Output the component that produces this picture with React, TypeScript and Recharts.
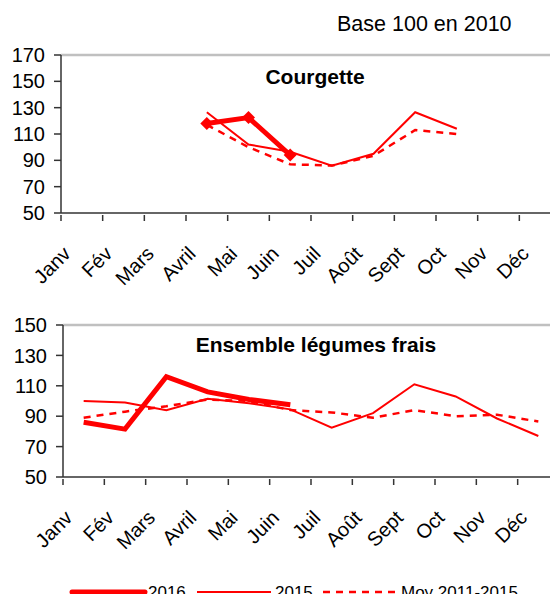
import React from "react"
import { LineChart, Line, XAxis, YAxis, ReferenceLine } from "recharts"

const months = ["Janv", "Fév", "Mars", "Avril", "Mai", "Juin", "Juil", "Août", "Sept", "Oct", "Nov", "Déc"]
const seriesNames = ["2016", "2015", "Moy 2011-2015"]

// Courgette, base 100 en 2010
const courgette2016 = [null, null, null, 118, 122.5, 94, null, null, null, null, null, null]
const courgette2015 = [null, null, null, 126.5, 102, 96.5, 86, 95, 126.5, 114, null, null]
const courgetteMoy = [null, null, null, 117, 100, 87, 86, 93.5, 113, 110, null, null]

// Ensemble légumes frais
const legumes2016 = [86, 81.5, 116, 106, 101, 97.5, null, null, null, null, null, null]
const legumes2015 = [100, 99, 94, 101.5, 98.5, 94.5, 82.5, 92, 111, 103, 88.5, 77]
const legumesMoy = [89, 93, 96.5, 101, 100, 94, 92.5, 89, 94, 90, 91, 86.5]

const courgetteTicks = [50, 70, 90, 110, 130, 150, 170]
const legumesTicks = [50, 70, 90, 110, 130, 150]

const FONT = '"Liberation Sans", Arial, sans-serif'
const RED = "#ff0000"
const AXIS = "#333333"

const monthEdges = months.map((_, i) => i).concat(months.length)

const toRows = (a: (number | null)[], b: (number | null)[], c: (number | null)[]) =>
  months.map((m, i) => ({ x: i + 0.5, month: m, s2016: a[i], s2015: b[i], moy: c[i] }))

const courgetteRows = toRows(courgette2016, courgette2015, courgetteMoy)
const legumesRows = toRows(legumes2016, legumes2015, legumesMoy)

// tick marks sit between months (Excel style), labels in the middle of each month
const MonthTick = (props: any) => {
  const { x, y, payload, band, dy } = props
  const i = payload.value
  return (
    <g>
      <line x1={x} y1={y} x2={x} y2={y + 6} stroke={AXIS} strokeWidth={1.5} />
      {i < months.length && (
        <text
          transform={`translate(${x + band / 2 - 10},${y + dy}) rotate(-45)`}
          textAnchor="end"
          fontSize={20}
          fontFamily={FONT}
          fill="#000"
        >
          {months[i]}
        </text>
      )}
    </g>
  )
}

const Diamond = (props: any) => {
  const { cx, cy, value, index } = props
  if (value == null || cx == null || cy == null) return <g key={index} />
  const r = 6.5
  return (
    <polygon
      key={index}
      points={`${cx},${cy - r} ${cx + r},${cy} ${cx},${cy + r} ${cx - r},${cy}`}
      fill={RED}
    />
  )
}

const yTick = { fontSize: 20, fontFamily: FONT, fill: "#000" }

const Panel = ({ rows, ticks, width, height, top, yWidth, xHeight, withMarkers }: any) => {
  const band = (width - yWidth) / months.length
  return (
    <LineChart width={width} height={height} data={rows} margin={{ top, right: 0, bottom: 0, left: 0 }}>
      <XAxis
        dataKey="x"
        type="number"
        domain={[0, months.length]}
        ticks={monthEdges}
        interval={0}
        tickSize={0}
        tickLine={false}
        axisLine={{ stroke: AXIS, strokeWidth: 1.5 }}
        height={xHeight}
        tick={<MonthTick band={band} dy={40} />}
      />
      <YAxis
        type="number"
        domain={[ticks[0], ticks[ticks.length - 1]]}
        ticks={ticks}
        interval={0}
        width={yWidth}
        tickSize={7}
        tickMargin={9}
        axisLine={{ stroke: AXIS, strokeWidth: 1.5 }}
        tickLine={{ stroke: AXIS, strokeWidth: 1.5 }}
        tick={yTick}
      />
      <ReferenceLine y={ticks[ticks.length - 1]} stroke="#c0c0c0" strokeWidth={2.5} />
      <Line dataKey="moy" stroke={RED} strokeWidth={2.5} strokeDasharray="7 6" dot={false} isAnimationActive={false} />
      <Line dataKey="s2015" stroke={RED} strokeWidth={2} dot={false} isAnimationActive={false} />
      <Line
        dataKey="s2016"
        stroke={RED}
        strokeWidth={5}
        dot={withMarkers ? (p: any) => <Diamond {...p} key={p.index} /> : false}
        isAnimationActive={false}
      />
    </LineChart>
  )
}

export default function App() {
  return (
    <div style={{ position: "relative", width: 558, height: 602, overflow: "hidden", margin: -8, background: "#fff" }}>
      <div style={{ position: "absolute", left: 0, top: 0 }}>
        <Panel rows={courgetteRows} ticks={courgetteTicks} width={561} height={300} top={55} yWidth={61} xHeight={87} withMarkers />
      </div>
      <div style={{ position: "absolute", left: 0, top: 300 }}>
        <Panel rows={legumesRows} ticks={legumesTicks} width={559} height={257} top={25} yWidth={63} xHeight={80} />
      </div>
      <svg width={558} height={602} style={{ position: "absolute", left: 0, top: 0, pointerEvents: "none" }} fontFamily={FONT}>
        <text x={337} y={31} fontSize={21.5}>Base 100 en 2010</text>
        <text x={315} y={84} fontSize={21} fontWeight="bold" textAnchor="middle">Courgette</text>
        <text x={316} y={352} fontSize={21} fontWeight="bold" textAnchor="middle">Ensemble légumes frais</text>
        <line x1={72} y1={592} x2={145} y2={592} stroke={RED} strokeWidth={5} strokeLinecap="round" />
        <text x={148} y={598} fontSize={17}>{seriesNames[0]}</text>
        <line x1={197} y1={592} x2={271} y2={592} stroke={RED} strokeWidth={2} />
        <text x={275} y={598} fontSize={17}>{seriesNames[1]}</text>
        <line x1={323} y1={592} x2={397} y2={592} stroke={RED} strokeWidth={2.5} strokeDasharray="7 6" />
        <text x={401} y={598} fontSize={17}>{seriesNames[2]}</text>
      </svg>
    </div>
  )
}
